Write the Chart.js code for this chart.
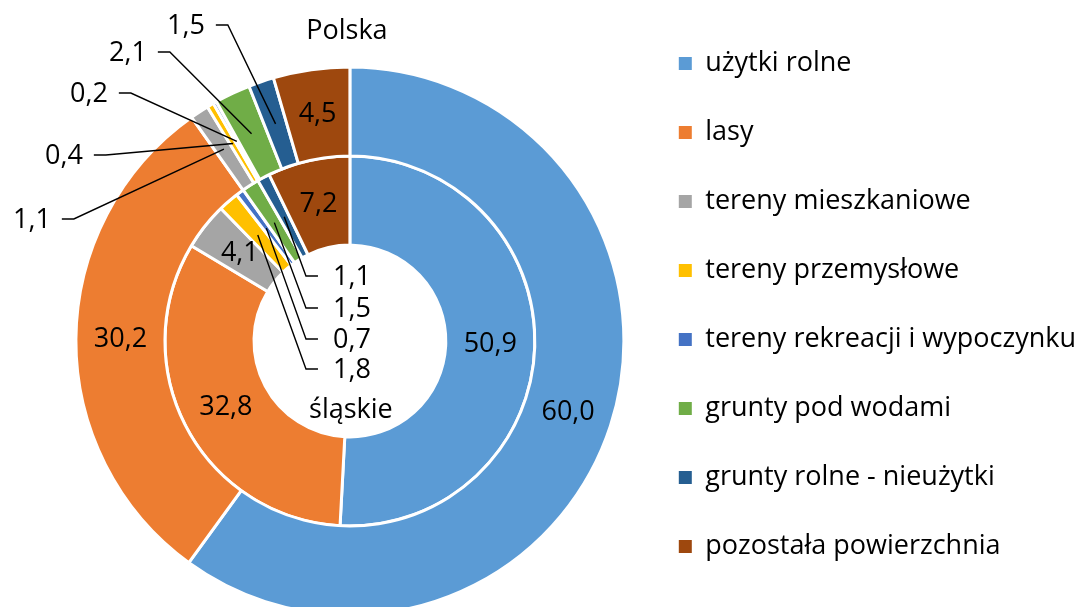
<!DOCTYPE html>
<html lang="pl">
<head>
<meta charset="utf-8">
<title>Struktura użytkowania gruntów – Polska i śląskie</title>
<script src="https://cdn.jsdelivr.net/npm/chart.js@4.4.1/dist/chart.umd.min.js"></script>
<style>
  html, body { margin: 0; padding: 0; background: #fff; overflow: hidden; }
  #wrap { position: relative; width: 1091px; height: 680px; }
</style>
</head>
<body>
<div id="wrap"><canvas id="wykres"></canvas></div>
<script>
const kategorie = [
  'użytki rolne',
  'lasy',
  'tereny mieszkaniowe',
  'tereny przemysłowe',
  'tereny rekreacji i wypoczynku',
  'grunty pod wodami',
  'grunty rolne - nieużytki',
  'pozostała powierzchnia'
];
const polska = [60.0, 30.2, 1.1, 0.4, 0.2, 2.1, 1.5, 4.5];
const slaskie = [50.9, 32.8, 4.1, 1.8, 0.7, 1.5, 1.1, 7.2];
const kolory = ['#5B9BD5', '#ED7D31', '#A5A5A5', '#FFC000', '#4472C4', '#70AD47', '#255E91', '#9E480E'];

// small slices get their label outside, with a leader line (offset from the centre, px)
const odsunieciaPolska = { 2: [-318, -122], 3: [-286, -186], 4: [-261, -248], 5: [-222, -289], 6: [-164, -316] };
const odsunieciaSlaskie = { 3: [2, 28], 4: [2, -2], 5: [2, -33], 6: [2, -65] };
const odsunieciaTytulow = [[-3, -310], [1, 69]];

const CZCIONKA = '"Open Sans"';
const ROZMIAR = 27;
const LEGENDA_X = 679;   // where the legend squares start
const KWADRAT = 13;

function formatuj(v) {
  return v.toFixed(1).replace('.', ',');
}

// legend sits on the right; pad so its squares start at LEGENDA_X
// (Chart.js adds 10px to the width of a vertical legend)
const miara = document.createElement('canvas').getContext('2d');
miara.font = `${ROZMIAR}px ${CZCIONKA}`;
const najdluzszy = Math.max(...kategorie.map(k => miara.measureText(k).width));
const padPrawy = Math.max(0, Math.round(1091 - LEGENDA_X - KWADRAT - ROZMIAR / 2 - najdluzszy - 10));

const etykietyPlugin = {
  id: 'etykiety',
  afterDatasetsDraw(chart) {
    const ctx = chart.ctx;
    const odsuniete = [odsunieciaPolska, odsunieciaSlaskie];
    ctx.save();
    ctx.font = `${ROZMIAR}px ${CZCIONKA}`;
    ctx.fillStyle = '#000';
    ctx.strokeStyle = '#000';
    ctx.lineWidth = 1.4;
    ctx.textAlign = 'center';
    ctx.textBaseline = 'middle';

    chart.data.datasets.forEach((ds, d) => {
      const meta = chart.getDatasetMeta(d);
      meta.data.forEach((arc, i) => {
        const tekst = formatuj(ds.data[i]);
        const srodek = arc.tooltipPosition();
        const poz = odsuniete[d][i];
        if (!poz) {
          ctx.fillText(tekst, srodek.x, srodek.y);
          return;
        }
        const tx = arc.x + poz[0];
        const ty = arc.y + poz[1];
        const w = ctx.measureText(tekst).width;
        ctx.fillText(tekst, tx, ty + 1);
        // short horizontal piece next to the text, then straight to the slice
        let x1, x2;
        if (tx < srodek.x) {
          x1 = tx + w / 2 + 11;
          x2 = x1 + 12;
        } else {
          x1 = tx - w / 2 - 15;
          x2 = x1 - 12;
        }
        ctx.beginPath();
        ctx.moveTo(x1, ty);
        ctx.lineTo(x2, ty);
        ctx.lineTo(srodek.x, srodek.y);
        ctx.stroke();
      });

      // ring name
      const pierwszy = meta.data[0];
      const off = odsunieciaTytulow[d];
      ctx.fillText(ds.label, pierwszy.x + off[0], pierwszy.y + off[1]);
    });
    ctx.restore();
  }
};

const ctx = document.getElementById('wykres').getContext('2d');
new Chart(ctx, {
  type: 'doughnut',
  data: {
    labels: kategorie,
    datasets: [
      { label: 'Polska', data: polska, backgroundColor: kolory, borderColor: '#fff', borderWidth: 3 },
      { label: 'śląskie', data: slaskie, backgroundColor: kolory, borderColor: '#fff', borderWidth: 3 }
    ]
  },
  options: {
    responsive: true,
    maintainAspectRatio: false,
    animation: false,
    radius: 274,
    cutout: '35%',
    layout: { padding: { left: 63, right: padPrawy, top: 8, bottom: 6 } },
    plugins: {
      tooltip: { enabled: false },
      legend: {
        position: 'right',
        align: 'start',
        labels: {
          color: '#000',
          font: { family: CZCIONKA, size: ROZMIAR },
          boxWidth: KWADRAT,
          boxHeight: KWADRAT,
          padding: 42,
          generateLabels: (chart) => {
            const bazowe = Chart.overrides.doughnut.plugins.legend.labels.generateLabels(chart);
            return bazowe.map(l => Object.assign(l, { lineWidth: 0, strokeStyle: 'transparent' }));
          }
        }
      }
    }
  },
  plugins: [etykietyPlugin]
});
</script>
</body>
</html>
